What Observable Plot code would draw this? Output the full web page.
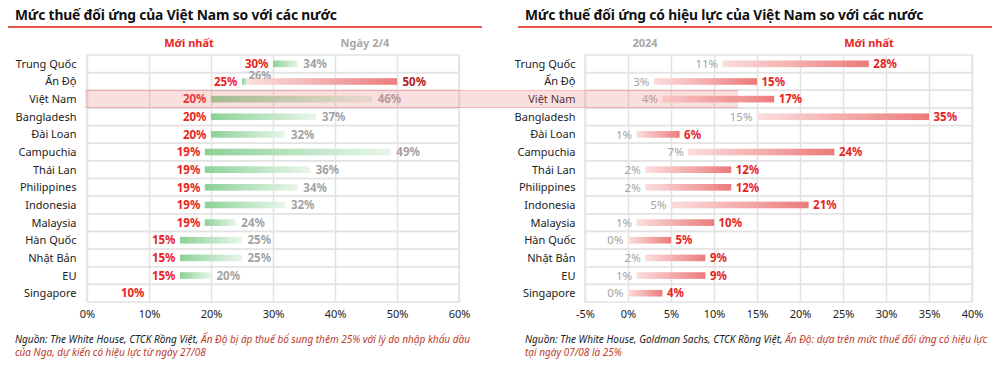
<!DOCTYPE html>
<html><head><meta charset="utf-8">
<script src="https://cdn.jsdelivr.net/npm/d3@7"></script>
<script src="https://cdn.jsdelivr.net/npm/@observablehq/plot@0.6"></script>
<style>
body{margin:0;background:#fff;}
#root{position:relative;width:1000px;height:365px;overflow:hidden;font-family:"Noto Sans",sans-serif;}
.title{position:absolute;top:5px;font-weight:700;font-size:13.8px;color:#111;white-space:nowrap;letter-spacing:-0.15px;}
.rule{position:absolute;top:26px;height:1.5px;background:#e8584e;}
.hdr{position:absolute;top:35px;font-weight:700;font-size:11px;transform:translateX(-50%);white-space:nowrap;}
.cap{position:absolute;top:333px;font-style:italic;font-size:10px;line-height:12.5px;color:#222;white-space:nowrap;}
.cap span{color:#c0392b;}
.plot{position:absolute;top:30px;}
#band{position:absolute;left:85px;width:653px;background:rgba(240,120,120,0.24);box-sizing:border-box;border-top:1px solid rgba(230,110,110,0.3);border-bottom:1px solid rgba(230,110,110,0.3);pointer-events:none;}
</style>
</head><body>
<div id="root">
  <div class="title" style="left:15px">Mức thuế đối ứng của Việt Nam so với các nước</div>
  <div class="rule" style="left:8px;width:474px"></div>
  <div class="title" style="left:525px">Mức thuế đối ứng có hiệu lực của Việt Nam so với các nước</div>
  <div class="rule" style="left:518px;width:474px"></div>
  <div class="hdr" style="left:189px;color:#e8231e">Mới nhất</div>
  <div class="hdr" style="left:365px;color:#a8a8a8">Ngày 2/4</div>
  <div class="hdr" style="left:645px;color:#a8a8a8">2024</div>
  <div class="hdr" style="left:869px;color:#e8231e">Mới nhất</div>
  <div id="left" class="plot" style="left:0px"></div>
  <div id="right" class="plot" style="left:500px"></div>
  <div id="band"></div>
  <div class="cap" style="left:15px">Nguồn: The White House, CTCK Rồng Việt, <span>Ấn Độ bị áp thuế bổ sung thêm 25% với lý do nhập khẩu dầu<br>của Nga, dự kiến có hiệu lực từ ngày 27/08</span></div>
  <div class="cap" style="left:525px">Nguồn: The White House, Goldman Sachs, CTCK Rồng Việt, <span>Ấn Độ: dựa trên mức thuế đối ứng có hiệu lực<br>tại ngày 07/08 là 25%</span></div>
</div>
<script>
// ---- data ----
const countries = ["Trung Quốc","Ấn Độ","Việt Nam","Bangladesh","Đài Loan","Campuchia","Thái Lan","Philippines","Indonesia","Malaysia","Hàn Quốc","Nhật Bản","EU","Singapore"];
// left chart: reciprocal tariff
const latestRate = [30,25,20,20,20,19,19,19,19,19,15,15,15,10];
const april2Rate = [34,26,46,37,32,49,36,34,32,24,25,25,20,null];
const extraRate  = [null,50,null,null,null,null,null,null,null,null,null,null,null,null];
// right chart: effective tariff
const eff2024   = [11,3,4,15,1,7,2,2,5,1,0,2,1,0];
const effLatest = [28,15,17,35,6,24,12,12,21,10,5,9,9,4];
const ticksLeft  = [0,10,20,30,40,50,60];
const ticksRight = [-5,0,5,10,15,20,25,30,35,40];
const highlight = "Việt Nam";

const FONT = '"Noto Sans", sans-serif';
const RED = "#e8231e", DARKRED = "#b3201c", GRAY = "#a3a3a3", GRID = "#e3e3e3";

function gradient(id, c0, c1) {
  return () => {
    const defs = d3.create("svg:defs");
    const g = defs.append("linearGradient").attr("id", id).attr("x1", 0).attr("x2", 1).attr("y1", 0).attr("y2", 0);
    g.append("stop").attr("offset", "0%").attr("stop-color", c0);
    g.append("stop").attr("offset", "100%").attr("stop-color", c1);
    return defs.node();
  };
}

const rowsL = countries.map((c, i) => ({country: c, latest: latestRate[i], apr: april2Rate[i], extra: extraRate[i]}));
const rowsR = countries.map((c, i) => ({country: c, y24: eff2024[i], now: effLatest[i]}));

const common = {
  height: 295, marginTop: 25, marginBottom: 23,
  style: {fontFamily: FONT, fontSize: "11px", color: "#222", background: "transparent", overflow: "visible"}
};

const left = Plot.plot({
  ...common, width: 500, marginLeft: 87, marginRight: 41,
  x: {domain: [0, 60], ticks: ticksLeft, tickFormat: d => d + "%", tickSize: 0, tickPadding: 8, label: null},
  y: {domain: countries, padding: 0, round: false, tickSize: 0, tickPadding: 11, label: null},
  marks: [
    gradient("gGreen", "#8cd197", "#e9f6eb"),
    gradient("gRedL", "#fbdcdc", "#ec7e7e"),
    Plot.ruleX(ticksLeft, {stroke: GRID, strokeWidth: 1.5}),
    Plot.barX(countries, {y: d => d, x1: 0, x2: 60, fill: "none", stroke: GRID, strokeWidth: 1.5}),
    Plot.barX(rowsL.filter(d => d.apr != null), {y: "country", x1: "latest", x2: "apr", fill: "url(#gGreen)", insetTop: 5.5, insetBottom: 5.5}),
    Plot.barX(rowsL.filter(d => d.extra != null), {y: "country", x1: "apr", x2: "extra", fill: "url(#gRedL)", insetTop: 5.5, insetBottom: 5.5}),
    Plot.text(rowsL, {y: "country", x: "latest", text: d => d.latest + "%", textAnchor: "end", dx: -5, fill: RED, fontWeight: "bold", fontSize: 11.5}),
    Plot.text(rowsL.filter(d => d.apr != null && d.extra == null), {y: "country", x: "apr", text: d => d.apr + "%", textAnchor: "start", dx: 5, fill: GRAY, fontWeight: "bold", fontSize: 11.5}),
    Plot.text(rowsL.filter(d => d.extra != null), {y: "country", x: "apr", text: d => d.apr + "%", textAnchor: "start", dy: -6, fill: GRAY, fontWeight: "bold", fontSize: 11}),
    Plot.text(rowsL.filter(d => d.extra != null), {y: "country", x: "extra", text: d => d.extra + "%", textAnchor: "start", dx: 5, fill: DARKRED, fontWeight: "bold", fontSize: 11.5})
  ]
});
document.getElementById("left").append(left);

const right = Plot.plot({
  ...common, width: 500, marginLeft: 85, marginRight: 28,
  x: {domain: [-5, 40], ticks: ticksRight, tickFormat: d => d + "%", tickSize: 0, tickPadding: 8, label: null},
  y: {domain: countries, padding: 0, round: false, tickSize: 0, tickPadding: 10, label: null},
  marks: [
    gradient("gRedR", "#fbdede", "#ec7b7b"),
    Plot.ruleX(ticksRight, {stroke: GRID, strokeWidth: 1.5}),
    Plot.barX(countries, {y: d => d, x1: -5, x2: 40, fill: "none", stroke: GRID, strokeWidth: 1.5}),
    Plot.barX(rowsR, {y: "country", x1: "y24", x2: "now", fill: "url(#gRedR)", insetTop: 5.5, insetBottom: 5.5}),
    Plot.text(rowsR, {y: "country", x: "y24", text: d => d.y24 + "%", textAnchor: "end", dx: -5, fill: GRAY, fontSize: 11.5}),
    Plot.text(rowsR, {y: "country", x: "now", text: d => d.now + "%", textAnchor: "start", dx: 4, fill: RED, fontWeight: "bold", fontSize: 11.5})
  ]
});
document.getElementById("right").append(right);

// highlight band across both panels, positioned from the y scale
const ys = left.scale("y");
const band = document.getElementById("band");
band.style.top = (30 + ys.apply(highlight)) + "px";
band.style.height = ys.bandwidth + "px";
</script>
</body></html>
